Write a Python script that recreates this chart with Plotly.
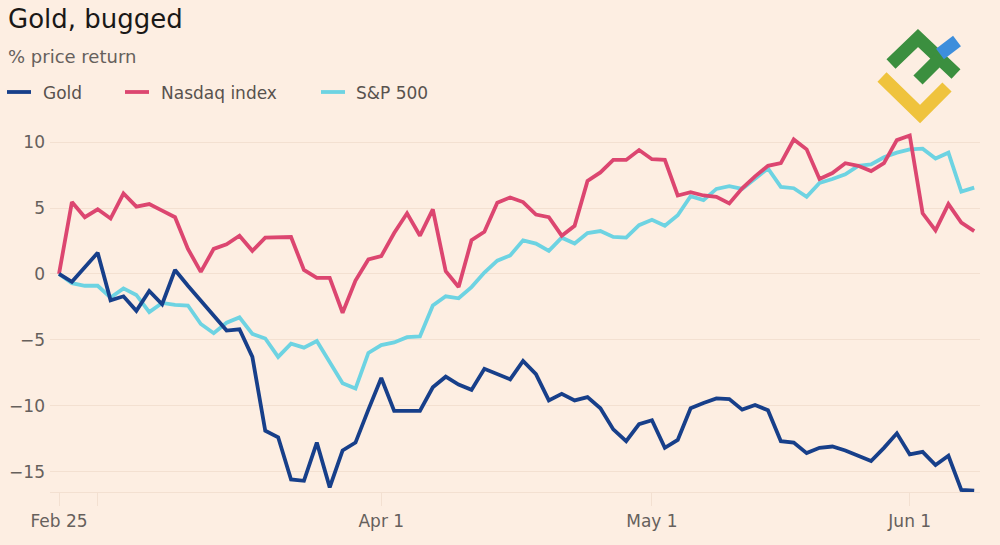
import plotly.graph_objects as go

# ---- data (percentage price return, trading-day index from Feb 25) ----
gold = [0, -0.6, 0.5, 1.6, -2.0, -1.7, -2.8, -1.3, -2.3, 0.3,
        -0.9, -2.0, -3.1, -4.3, -4.2, -6.3, -11.9, -12.4, -15.6, -15.7,
        -12.8, -16.2, -13.4, -12.8, -10.3, -7.9, -10.4, -10.4, -10.4, -8.6,
        -7.8, -8.4, -8.8, -7.2, -7.6, -8.0, -6.6, -7.6, -9.6, -9.1,
        -9.6, -9.35, -10.2, -11.8, -12.7, -11.4, -11.1, -13.2, -12.6, -10.2,
        -9.8, -9.45, -9.5, -10.3, -9.95, -10.35, -12.7, -12.8, -13.6, -13.2,
        -13.1, -13.4, -13.8, -14.2, -13.2, -12.1, -13.7, -13.5, -14.5, -13.8,
        -16.4, -16.45]
nasdaq = [0, 5.45, 4.3, 4.9, 4.2, 6.1, 5.1, 5.3, 4.8, 4.3,
          1.9, 0.15, 1.9, 2.25, 2.9, 1.75, 2.75, 2.8, 2.8, 0.3,
          -0.3, -0.3, -2.95, -0.5, 1.1, 1.35, 3.1, 4.6, 2.9, 4.9,
          0.2, -1.0, 2.55, 3.2, 5.4, 5.8, 5.45, 4.5, 4.3, 2.9,
          3.65, 7.05, 7.7, 8.65, 8.65, 9.4, 8.7, 8.65, 5.95, 6.2,
          5.95, 5.85, 5.35, 6.5, 7.4, 8.2, 8.4, 10.2, 9.45, 7.2,
          7.65, 8.4, 8.2, 7.8, 8.4, 10.15, 10.5, 4.6, 3.3, 5.3,
          3.9, 3.25]
sp500 = [0, -0.7, -0.9, -0.9, -1.8, -1.1, -1.6, -2.9, -2.2, -2.35,
         -2.4, -3.8, -4.5, -3.7, -3.3, -4.55, -4.9, -6.3, -5.3, -5.6,
         -5.1, -6.7, -8.3, -8.7, -6.0, -5.4, -5.2, -4.8, -4.75, -2.4,
         -1.7, -1.85, -1.0, 0.1, 1.0, 1.4, 2.55, 2.3, 1.75, 2.75,
         2.3, 3.1, 3.25, 2.8, 2.75, 3.7, 4.1, 3.65, 4.45, 5.9,
         5.6, 6.45, 6.65, 6.45, 7.2, 8.0, 6.6, 6.5, 5.85, 6.9,
         7.2, 7.55, 8.2, 8.3, 8.85, 9.2, 9.45, 9.5, 8.75, 9.2,
         6.25, 6.55]
day_index = list(range(len(gold)))

x_tick_pos = [0, 3, 25, 46, 66]
x_tick_text = ["Feb 25", "", "Apr 1", "May 1", "Jun 1"]
y_tick_vals = [-15, -10, -5, 0, 5, 10]

series_names = ["Gold", "Nasdaq index", "S&P 500"]
series_colors = ["#173f8a", "#dc4670", "#6dd3e2"]

# ---- layout constants ----
W, H = 1000, 545
L, R, T, B = 50, 20, 123, 53
PW, PH = W - L - R, H - T - B
BG = "#fdeee2"
GRID = "#f3e0d1"
FONT = "'DejaVu Sans', sans-serif"
GREY = "#66605c"


def px_x(px):
    return (px - L) / PW


def px_y(py):
    return (H - B - py) / PH


fig = go.Figure()
for vals, name, color in [(sp500, series_names[2], series_colors[2]),
                          (nasdaq, series_names[1], series_colors[1]),
                          (gold, series_names[0], series_colors[0])]:
    fig.add_trace(go.Scatter(x=day_index, y=vals, mode="lines", name=name,
                             line=dict(color=color, width=3.8),
                             showlegend=False))

annotations = [
    dict(text="Gold, bugged", x=px_x(6), y=px_y(19), xref="paper", yref="paper",
         xanchor="left", yanchor="middle", showarrow=False,
         font=dict(family=FONT, size=26, color="#1a1817")),
    dict(text="% price return", x=px_x(6), y=px_y(57), xref="paper", yref="paper",
         xanchor="left", yanchor="middle", showarrow=False,
         font=dict(family=FONT, size=18, color=GREY)),
]
shapes = []
legend_pos = [(7, 41), (125, 159), (321, 354)]
for (kx, tx), name, color in zip(legend_pos, series_names, series_colors):
    shapes.append(dict(type="line", xref="paper", yref="paper",
                       x0=px_x(kx), x1=px_x(kx + 24), y0=px_y(92), y1=px_y(92),
                       line=dict(color=color, width=3.8)))
    annotations.append(dict(text=name, x=px_x(tx), y=px_y(93), xref="paper", yref="paper",
                            xanchor="left", yanchor="middle", showarrow=False,
                            font=dict(family=FONT, size=17, color="#58524e")))

# watermark logo
logo = [
    ("#3b8f3f", [(891, 64), (918, 38), (956, 74)]),
    ("#3b8f3f", [(918, 80), (939, 59)]),
    ("#3d8edc", [(940, 54), (957, 41)]),
    ("#efc33d", [(882, 77), (920, 114), (947, 87)]),
]
for color, pts in logo:
    path = "M " + " L ".join(f"{px_x(a):.5f},{px_y(b):.5f}" for a, b in pts)
    shapes.append(dict(type="path", xref="paper", yref="paper", path=path,
                       line=dict(color=color, width=13)))

fig.update_layout(
    width=W, height=H,
    margin=dict(l=L, r=R, t=T, b=B, autoexpand=False),
    paper_bgcolor=BG, plot_bgcolor=BG,
    annotations=annotations, shapes=shapes,
    showlegend=False,
    xaxis=dict(range=[-0.7, 71.45], tickmode="array", tickvals=x_tick_pos,
               ticktext=x_tick_text, showgrid=False, zeroline=False,
               showline=True, linecolor=GRID, linewidth=1,
               ticks="outside", ticklen=13, tickcolor=GRID, tickwidth=1,
               ticklabelstandoff=1, automargin=False,
               tickfont=dict(family=FONT, size=17, color=GREY)),
    yaxis=dict(range=[-16.55, 11.45], tickmode="array", tickvals=y_tick_vals,
               showgrid=True, gridcolor=GRID, gridwidth=1, zeroline=False,
               showline=False, ticks="", ticklabelstandoff=4, automargin=False,
               tickfont=dict(family=FONT, size=17, color=GREY)),
)

fig.write_html("out.html")
